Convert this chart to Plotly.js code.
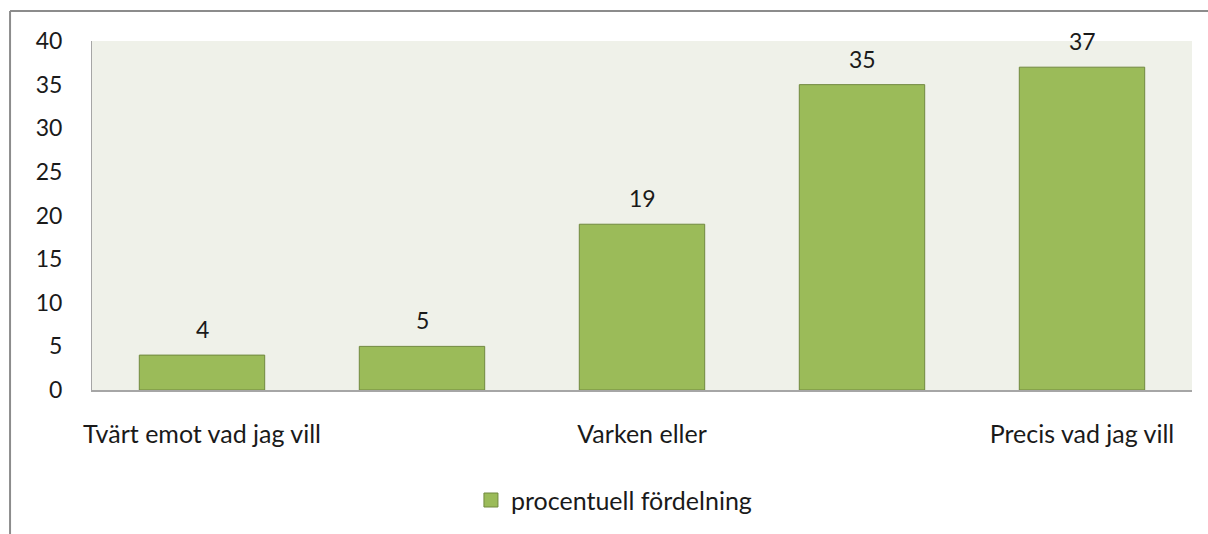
<!DOCTYPE html>
<html>
<head>
<meta charset="utf-8">
<script src="https://cdn.plot.ly/plotly-3.0.1.min.js"></script>
<style>html,body{margin:0;padding:0;background:#fff;}#chart{width:1208px;height:534px;}</style>
</head>
<body>
<div id="chart"></div>
<script>
const categories = ["Tvärt emot vad jag vill", "c2", "Varken eller", "c4", "Precis vad jag vill"];
const tickLabels = ["Tvärt emot vad jag vill", "", "Varken eller", "", "Precis vad jag vill"];
const values = [4, 5, 19, 35, 37];
const seriesName = "procentuell fördelning";
const yTicks = [0, 5, 10, 15, 20, 25, 30, 35, 40];

const FONT = "Lato, 'Open Sans', sans-serif";
const FS = 23;
const FS_TXT = 25;
const TXT = "#1a1a1a";
const GREEN = "#9BBB59";
const GREEN_LINE = "#71893F";

const barTrace = {
  type: "bar",
  x: categories,
  y: values,
  name: seriesName,
  marker: {color: GREEN, line: {color: GREEN_LINE, width: 1}},
  showlegend: false,
  hoverinfo: "none"
};

// legend entry for the bar series (square swatch)
const legendTrace = {
  type: "scatter", mode: "markers",
  x: [null], y: [null],
  name: seriesName,
  marker: {symbol: "square", size: 14, color: GREEN, line: {color: GREEN_LINE, width: 1}},
  showlegend: true, hoverinfo: "none"
};

const annotations = categories.map((c, i) => ({
  x: c, y: values[i], xref: "x", yref: "y",
  text: String(values[i]), showarrow: false,
  yanchor: "middle", yshift: 26,
  font: {family: FONT, size: FS, color: TXT}
}));

const layout = {
  width: 1208, height: 534,
  margin: {l: 92, r: 16, t: 41, b: 144, autoexpand: false},
  paper_bgcolor: "#ffffff",
  plot_bgcolor: "#EFF1E9",
  font: {family: FONT, size: FS, color: TXT},
  bargap: 0.43,
  xaxis: {
    type: "category",
    tickvals: categories, ticktext: tickLabels,
    showgrid: false, zeroline: false,
    showline: true, linecolor: "#A6A6A6", linewidth: 2,
    ticks: "", ticklabelstandoff: 21,
    tickfont: {family: FONT, size: FS_TXT, color: TXT}
  },
  yaxis: {
    range: [0, 40], tickvals: yTicks,
    showgrid: false, zeroline: false,
    showline: true, linecolor: "#A6A6A6", linewidth: 1,
    ticks: "", ticklabelstandoff: 24,
    tickfont: {family: FONT, size: FS, color: TXT}
  },
  legend: {
    orientation: "h", x: 0.4745, xanchor: "center", y: -0.25, yanchor: "top",
    font: {family: FONT, size: FS_TXT, color: TXT},
    itemwidth: 30
  },
  annotations: annotations,
  shapes: [
    {type: "line", xref: "paper", yref: "paper", x0: -0.0745, x1: -0.0745, y0: -0.6, y1: 1.086,
     line: {color: "#8C8C8C", width: 2}},
    {type: "line", xref: "paper", yref: "paper", x0: -0.0745, x1: 1.05, y0: 1.086, y1: 1.086,
     line: {color: "#8C8C8C", width: 2}}
  ]
};

Plotly.newPlot("chart", [barTrace, legendTrace], layout, {displayModeBar: false, staticPlot: true});
</script>
</body>
</html>
